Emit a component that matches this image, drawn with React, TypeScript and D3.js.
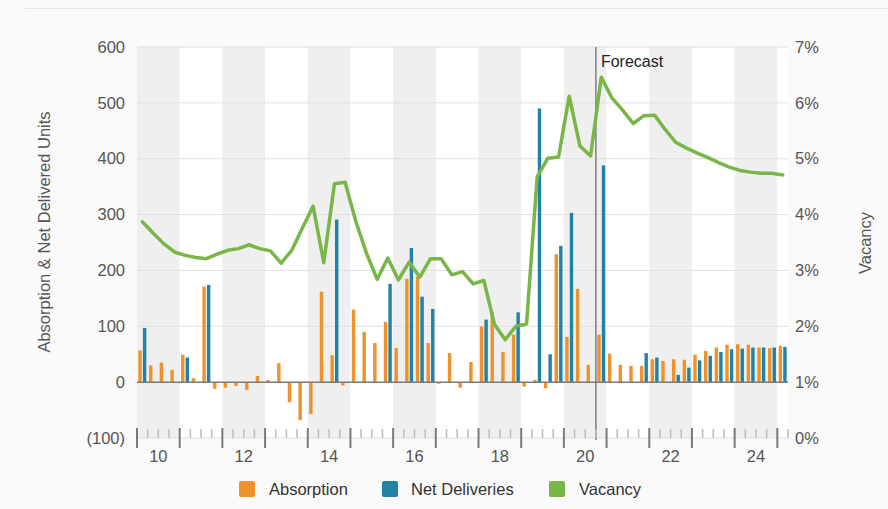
import React from "react";
import * as d3 from "d3";

const years = [2010, 2011, 2012, 2013, 2014, 2015, 2016, 2017, 2018, 2019, 2020, 2021, 2022, 2023, 2024, 2025];
const quarterNames = ["Q1", "Q2", "Q3", "Q4"];
const categories = years.flatMap((y) => quarterNames.map((q) => `${y}${q}`)).slice(0, 61);

const absorption = [
  57, 30, 35, 22, 49, 7, 171, -12, -10, -7, -14, 11, 4, 34, -36, -68, -57, 162, 48, -6,
  130, 90, 70, 108, 61, 185, 189, 70, -3, 52, -10, 36, 100, 125, 54, 85, -8, 4, -11, 229,
  81, 167, 31, 85, 51, 31, 29, 29, 41, 38, 41, 40, 49, 56, 62, 67, 68, 67, 62, 61, 65,
];
const netDeliveries = [
  97, 0, 0, 0, 44, 0, 174, 0, 0, 0, 0, 0, 0, 0, 0, 0, 0, 0, 291, 0,
  0, 0, 0, 176, 0, 240, 153, 131, 0, 0, 0, 0, 112, 0, 0, 125, 0, 490, 50, 244,
  303, 0, 0, 388, 0, 0, 0, 52, 44, 0, 13, 26, 39, 47, 54, 59, 60, 62, 62, 62, 63,
];
const vacancy = [
  3.87, 3.67, 3.48, 3.33, 3.27, 3.23, 3.21, 3.29, 3.36, 3.39,
  3.46, 3.39, 3.35, 3.13, 3.36, 3.76, 4.15, 3.14, 4.55, 4.58,
  3.88, 3.31, 2.84, 3.22, 2.83, 3.15, 2.88, 3.21, 3.21, 2.92,
  2.98, 2.76, 2.82, 2.03, 1.76, 2.0, 2.04, 4.68, 5.01, 5.03,
  6.12, 5.23, 5.05, 6.46, 6.09, 5.87, 5.63, 5.77, 5.78, 5.52,
  5.29, 5.19, 5.10, 5.02, 4.93, 4.85, 4.79, 4.76, 4.74, 4.74, 4.71,
];
const leftTicks = [-100, 0, 100, 200, 300, 400, 500, 600];
const rightTicks = [0, 1, 2, 3, 4, 5, 6, 7];
const yearLabels = [2010, 2012, 2014, 2016, 2018, 2020, 2022, 2024];
const forecastStart = "2020Q4";
const seriesNames = ["Absorption", "Net Deliveries", "Vacancy"];

const COLORS = { abs: "#F0922B", del: "#1F82A6", vac: "#78B648" };
const FONT = "'Liberation Sans', Arial, Helvetica, sans-serif";
const FS = 16.5;

export default function App() {
  const W = 888, H = 509;
  const left = 137, right = 788, top = 47, bottom = 438;

  const x = d3.scaleBand<string>().domain(categories).range([left, right]).padding(0);
  const xi = d3.scaleBand<string>().domain(["abs", "del"]).range([0, x.bandwidth()]).paddingInner(0.25).paddingOuter(0.3);
  const yL = d3.scaleLinear().domain([-100, 600]).range([bottom, top]);
  const yR = d3.scaleLinear().domain([0, 7]).range([bottom, top]);
  const y0 = yL(0);

  const line = d3.line<number>()
    .x((_, i) => (x(categories[i]) as number) + x.bandwidth() / 2)
    .y((v) => yR(v));

  const bars = (vals: number[], key: string, color: string) =>
    vals.map((v, i) => {
      if (!v) return null;
      const bx = (x(categories[i]) as number) + (xi(key) as number);
      const yt = v >= 0 ? yL(v) : y0;
      const h = Math.abs(yL(v) - y0);
      return <rect key={key + i} x={bx} y={yt} width={xi.bandwidth()} height={h} fill={color} />;
    });

  const fx = x(forecastStart) as number;

  return (
    <svg width={W} height={H} style={{ position: "absolute", left: 0, top: 0, background: "#FAFAFA", fontFamily: FONT }}>
      <line x1={25} x2={W} y1={8.5} y2={8.5} stroke="#E6E6E6" strokeWidth={1} />
      {years.map((yr) => {
        const first = categories.indexOf(`${yr}Q1`);
        if (first < 0) return null;
        const x1 = x(categories[first]) as number;
        const x2 = Math.min(x1 + 4 * x.bandwidth(), right);
        return (
          <rect key={"b" + yr} x={x1} y={top} width={x2 - x1} height={bottom - top}
            fill={yr % 2 === 0 ? "#EFEFEF" : "#FFFFFF"} />
        );
      })}
      {leftTicks.filter((t) => t !== 0).map((t) => (
        <line key={"g" + t} x1={left} x2={right} y1={yL(t)} y2={yL(t)} stroke="#E0E0E0" strokeWidth={1} />
      ))}
      {leftTicks.map((t) => (
        <text key={"l" + t} x={125} y={yL(t)} dy="0.35em" textAnchor="end" fontSize={FS} fill="#555">
          {t < 0 ? `(${Math.abs(t)})` : t}
        </text>
      ))}
      {rightTicks.map((t) => (
        <text key={"r" + t} x={795} y={yR(t)} dy="0.35em" textAnchor="start" fontSize={FS} fill="#555">
          {`${t}%`}
        </text>
      ))}
      {bars(absorption, "abs", COLORS.abs)}
      {bars(netDeliveries, "del", COLORS.del)}
      <line x1={left} x2={right} y1={y0} y2={y0} stroke="#7A7A7A" strokeWidth={1.5} />
      <line x1={fx} x2={fx} y1={top} y2={bottom + 2} stroke="#6E6E6E" strokeWidth={1.3} />
      <text x={fx + 5} y={67} fontSize={16} fill="#222">Forecast</text>
      <path d={line(vacancy) || ""} fill="none" stroke={COLORS.vac} strokeWidth={3.5} strokeLinejoin="round" strokeLinecap="round" />
      {categories.map((c, i) => {
        const tx = x(c) as number;
        const major = c.endsWith("Q1");
        return major ? (
          <line key={"t" + i} x1={tx} x2={tx} y1={428} y2={448} stroke="#7A7A7A" strokeWidth={2} />
        ) : (
          <line key={"t" + i} x1={tx} x2={tx} y1={429} y2={438} stroke="#BDBDBD" strokeWidth={1.5} />
        );
      })}
      <line x1={right} x2={right} y1={429} y2={438} stroke="#BDBDBD" strokeWidth={1.5} />
      {yearLabels.map((yr) => {
        const xs = (x(`${yr}Q1`) as number) + 2 * x.bandwidth();
        return (
          <text key={"y" + yr} x={xs} y={462} textAnchor="middle" fontSize={FS} fill="#555">
            {String(yr).slice(2)}
          </text>
        );
      })}
      <text transform={`translate(50,232) rotate(-90)`} textAnchor="middle" fontSize={FS} fill="#555">
        Absorption &amp; Net Delivered Units
      </text>
      <text transform={`translate(871,243) rotate(-90)`} textAnchor="middle" fontSize={FS} fill="#555">
        Vacancy
      </text>
      {[
        { name: seriesNames[0], color: COLORS.abs, sx: 239, tx: 269 },
        { name: seriesNames[1], color: COLORS.del, sx: 382, tx: 411 },
        { name: seriesNames[2], color: COLORS.vac, sx: 549, tx: 579 },
      ].map((l) => (
        <g key={l.name}>
          <rect x={l.sx} y={481} width={16} height={16} rx={2} fill={l.color} />
          <text x={l.tx} y={489} dy="0.35em" fontSize={FS} fill="#333">{l.name}</text>
        </g>
      ))}
    </svg>
  );
}
